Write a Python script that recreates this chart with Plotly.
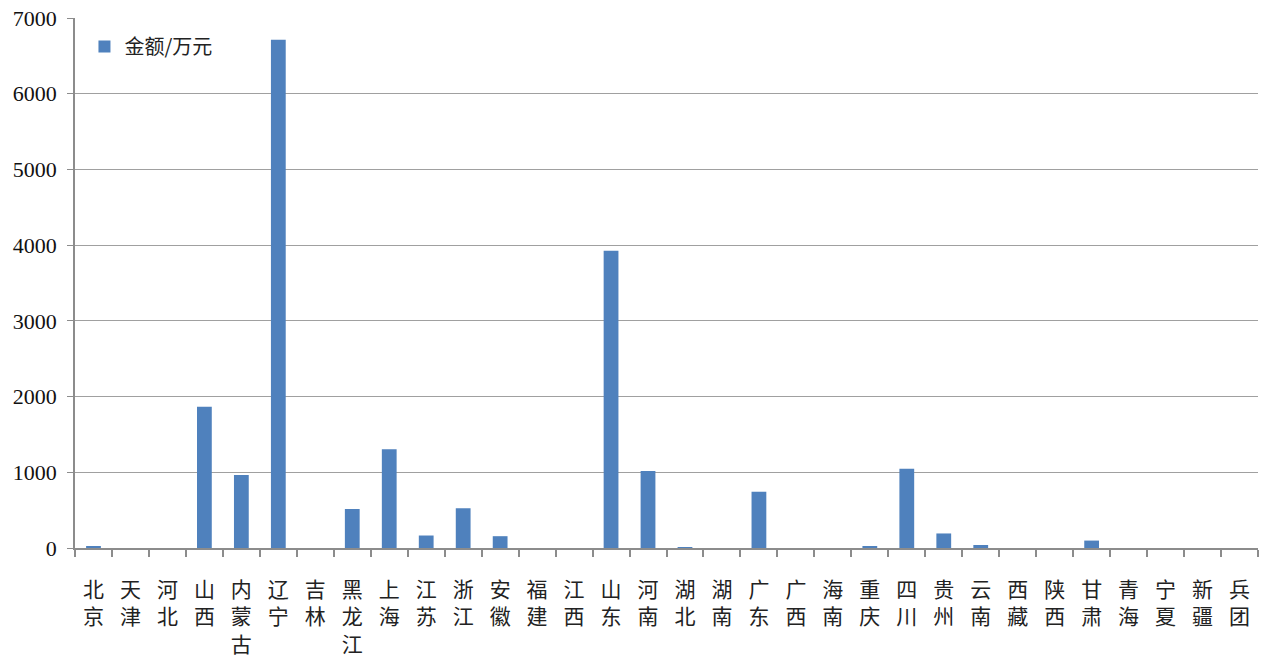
import plotly.graph_objects as go

provinces = ["北京", "天津", "河北", "山西", "内蒙古", "辽宁", "吉林", "黑龙江", "上海", "江苏",
             "浙江", "安徽", "福建", "江西", "山东", "河南", "湖北", "湖南", "广东", "广西",
             "海南", "重庆", "四川", "贵州", "云南", "西藏", "陕西", "甘肃", "青海", "宁夏",
             "新疆", "兵团"]
amounts = [25, 0, 0, 1867, 965, 6712, 0, 515, 1305, 165,
           525, 156, 0, 0, 3925, 1018, 13, 0, 743, 0,
           0, 18, 1048, 192, 40, 0, 0, 98, 0, 0,
           0, 0]
series_name = "金额/万元"
y_ticks = [0, 1000, 2000, 3000, 4000, 5000, 6000, 7000]

tick_text = ["<br>".join(list(p)) for p in provinces]

fig = go.Figure()
fig.add_trace(go.Bar(
    x=provinces, y=amounts, name=series_name,
    marker=dict(color="#4F81BD", line=dict(width=0)),
    width=0.4,
))

fig.update_layout(
    width=1269, height=669,
    margin=dict(l=75, r=11, t=18, b=121),
    plot_bgcolor="white", paper_bgcolor="white",
    showlegend=True,
    legend=dict(x=0.008, y=0.983, xanchor="left", yanchor="top",
                font=dict(family="Noto Sans CJK SC", size=20, color="#222"),
                bgcolor="rgba(0,0,0,0)", itemwidth=30),
)
fig.update_xaxes(
    tickmode="array", tickvals=provinces, ticktext=tick_text,
    tickfont=dict(family="Noto Sans CJK SC", size=21, color="#222"),
    showline=True, linecolor="#8C8C8C", linewidth=1.5,
    ticks="outside", tickson="boundaries", ticklen=7, tickcolor="#8C8C8C", tickwidth=1.5,
    showgrid=False, tickangle=0, ticklabelstandoff=22, automargin=False,
)
fig.update_yaxes(
    range=[0, 7000], tickmode="array", tickvals=y_ticks,
    tickfont=dict(family="Liberation Serif", size=22, color="#111"),
    showline=True, linecolor="#8C8C8C", linewidth=1.5,
    ticks="outside", ticklen=6, tickcolor="#8C8C8C",
    showgrid=True, gridcolor="#A0A0A0", gridwidth=1.3,
    zeroline=False, ticklabelstandoff=6, automargin=False,
)

fig.write_html("out.html", config={"displayModeBar": False},
               post_script="document.body.style.margin='0';")
